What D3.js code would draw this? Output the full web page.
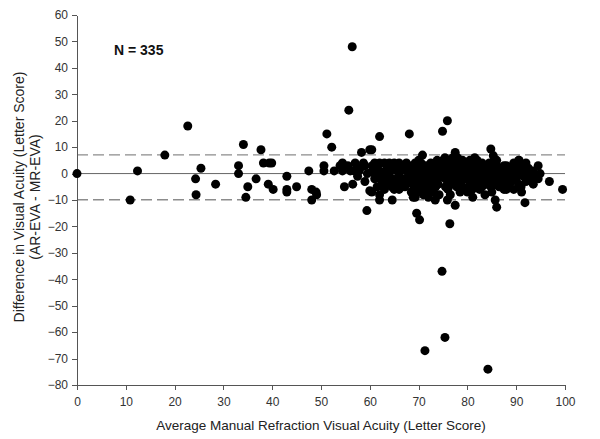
<!DOCTYPE html>
<meta charset="utf-8">
<style>
body { margin: 0; padding: 0; background: #fff; }
svg { font-family: "Liberation Sans", Arial, sans-serif; }
.axis path, .axis line { stroke: #555; stroke-width: 1; shape-rendering: crispEdges; }
.axis text { fill: #333; font-size: 12px; }
.title { fill: #222; font-size: 13.5px; }
.limit { stroke: #8c8c8c; stroke-width: 1.3; stroke-dasharray: 11, 5; fill: none; }
.zero { stroke: #666; stroke-width: 1; fill: none; }
.dot { fill: #000; }
</style>
<body>
<div id="chart"></div>
<script src="https://cdn.jsdelivr.net/npm/d3@7"></script>
<script>
// tick labels
var xTicks = [0, 10, 20, 30, 40, 50, 60, 70, 80, 90, 100];
var yTicks = [60, 50, 40, 30, 20, 10, 0, -10, -20, -30, -40, -50, -60, -70, -80];

// mean difference is zero line, limits of agreement dashed
var zeroLine = [0];
var agreementLimits = [7.1, -9.9];

// [average MR visual acuity, AR-EVA minus MR-EVA]
var lowRange = [
  [0, 0], [10.9, -10], [12.4, 1], [18, 7], [22.7, 18], [24.3, -2], [25.4, 2], [24.4, -8],
  [28.4, -4], [33.1, 3], [33.1, 0], [34.1, 11], [35, -5], [34.6, -9], [36.7, -2], [37.7, 9],
  [38.2, 4], [39.4, 4], [39.9, 4], [39.2, -4], [40.2, -6], [43, -1], [43, -6], [43, -7],
  [45, -5], [47.5, 1], [48.1, -6], [49, -7], [49.1, -8], [48.1, -10]
];

var midRange = [
  [50.6, 3], [50.6, 1], [51.2, 15], [52.2, 10], [52.7, 1], [53.9, 3], [54.4, 4], [54.4, 1],
  [54.8, -5], [55.7, 24], [56.4, 48], [56.8, 1], [57.8, 1], [58.3, 8], [58.7, 4], [59, 3],
  [59.4, -14], [60, 9], [60, -6.5], [60.4, 9], [62, 14], [68.1, 15], [60.4, -7], [62, -8],
  [62, -10], [64.6, -10], [55.5, 3], [56, 1], [57, 4], [57.5, -1], [58, 2], [59.5, 0],
  [59, -3], [56.5, -4]
];

var cluster = [
  [61, 4], [62, 4], [63, 4], [64, 4], [62, 1], [62, -1], [63.5, -1], [64.7, 2], [60.5, 1],
  [61, -2], [63, -4], [61.5, -5], [66, 4], [66, 0.5], [66.5, -3], [66.2, -4.5], [67.2, -5],
  [65, 2], [65.5, -2], [67, 3], [68, 3], [68.6, -3.7], [67.5, 1], [65, -6], [64, -3],
  [68.5, -7], [69.3, -9], [69, -6], [69.3, 4], [70, 2], [70.5, 0], [71, -2], [71, -4],
  [70, 5], [71.5, 3], [69.5, -1], [72, 1], [72, -3], [70.5, -5], [71.5, -6], [68.8, 1],
  [69.8, 3], [72.5, 4], [73, 2], [73.5, 0], [74, -2], [74, -4], [73, -6], [74.5, 3],
  [75, 5], [75.5, 1], [75, -1], [76, -3], [75.5, -5], [72.8, -7], [74.2, -8], [76, -6],
  [73.8, 5], [76, 2], [72.5, -1], [74.8, 0], [75.4, 6], [76.5, 4], [77, 1], [77.5, -1],
  [78, -3], [78.5, 2], [79, 0], [79, -5], [77, 6], [78, 4], [79.5, 3], [76.8, -2],
  [77.8, -5], [78.5, -7], [80, -2], [79.8, 1], [77, -4], [80, 4], [76.5, -8], [80.5, 5],
  [81, 3], [81, 0], [81.5, -2], [82, 2], [82, -4], [82.5, 1], [83, -1], [83, 4],
  [83.5, -3], [81, -6], [82.5, -6], [84, 2], [84, 0], [80.5, -4], [81.5, 6], [83, -5],
  [84, -2], [82, 5], [84.5, 4], [85, 1], [85.5, -1], [85, -3], [86, 3], [86, 0],
  [86.5, -2], [87, 2], [87, -4], [87.5, 1], [85.5, 5], [86.5, -5], [88, -1], [88, 3],
  [84.8, -5], [87.5, -6], [85, -7], [88.5, 2], [89, 0], [89, -3], [89.5, 4], [90, 1],
  [90, -2], [90.5, -4], [91, 3], [91, 0], [91.5, -1], [89.5, -6], [88.5, -5], [92, 1],
  [92, -3], [90.5, 5], [92.5, 2], [93, 0], [93, -2], [93.5, 1], [94, -1], [93.5, -4],
  [70.8, 7], [77.5, 8], [69.6, -15], [70.2, -17.5], [68.9, -9], [73.4, -10], [75.9, -10],
  [77.5, -12], [81.1, -9], [76.4, -19], [84.8, 9.3], [85.3, 6.8], [90.6, 5], [92, 4],
  [94.5, 3], [94.9, 0], [96.8, -3], [94.5, -2], [83.6, -8], [85.7, -10], [86, -12.7],
  [91.8, -11], [91.1, -7], [99.5, -6], [74.9, 16], [75.9, 20]
];

var clusterFill = [
  [60.5, 3], [61.5, 2], [62.5, 0], [63, -2], [63.5, 2], [64, 0], [64.5, -2], [65, 4],
  [65.5, 1], [66, -1], [66.5, 2], [67, -2], [67.5, 4], [63, -6], [64.5, -5], [66, -6],
  [67.5, -4], [62.5, -3], [61, 0], [65, -4], [68, 0], [68.5, -2], [69, 2], [69.5, -4],
  [70, -3], [70, -7], [70.5, 3], [71, 1], [71.5, -1], [72, -5], [72.5, 2], [73, -3],
  [73.5, 4], [73.5, -5], [74, 1], [74.5, -1], [71, -8], [72, -9], [69, -1], [70.5, 4],
  [75, 3], [75.5, -2], [76, 0], [76.5, -4], [77, 3], [77.5, 2], [78, -1], [78.5, -4],
  [79, 2], [79.5, -2], [80, 0], [80.5, 2], [80.5, -6], [81, -3], [81.5, 1], [82, -1],
  [78, 6], [79, 5], [76, 5], [80, -7], [82.5, 3], [83, -3], [83.5, 1], [84, -4],
  [84.5, 2], [85, -5], [85.5, 3], [86, -4], [86.5, 1], [87, -1], [87.5, 3], [88, -3],
  [88.5, 0], [89, 2], [89.5, -1], [90, 3], [86, 5], [88, -6], [91, -5], [92.5, -1]
];

var outliers = [
  [74.8, -37], [75.4, -62], [71.3, -67], [84.2, -74]
];

var width = 600, height = 439;
var margin = {top: 15, right: 35, bottom: 54, left: 77};

var x = d3.scaleLinear().domain([0, 100]).range([margin.left, width - margin.right]);
var y = d3.scaleLinear().domain([-80, 60]).range([height - margin.bottom, margin.top]);

var svg = d3.select("#chart").append("svg")
    .attr("width", width)
    .attr("height", height);

// reference lines
svg.selectAll(".zero")
    .data(zeroLine).enter()
    .append("line")
    .attr("class", "zero")
    .attr("x1", x(0)).attr("x2", x(100))
    .attr("y1", function(d) { return y(d); })
    .attr("y2", function(d) { return y(d); });

svg.selectAll(".limit")
    .data(agreementLimits).enter()
    .append("line")
    .attr("class", "limit")
    .attr("x1", x(0)).attr("x2", x(100))
    .attr("y1", function(d) { return y(d); })
    .attr("y2", function(d) { return y(d); });

// axes
svg.append("g")
    .attr("class", "axis")
    .attr("transform", "translate(0," + y(-80) + ")")
    .call(d3.axisBottom(x).tickValues(xTicks).tickSize(5).tickSizeOuter(0).tickPadding(7));

svg.append("g")
    .attr("class", "axis")
    .attr("transform", "translate(" + x(0) + ",0)")
    .call(d3.axisLeft(y).tickValues(yTicks).tickSize(5).tickSizeOuter(0).tickPadding(4));

// points
var allPoints = lowRange.concat(midRange, cluster, clusterFill, outliers);
svg.append("g")
  .selectAll("circle")
    .data(allPoints).enter()
    .append("circle")
    .attr("class", "dot")
    .attr("cx", function(d) { return x(d[0]); })
    .attr("cy", function(d) { return y(d[1]); })
    .attr("r", 4.5);

// titles
svg.append("text")
    .attr("class", "title")
    .attr("x", (x(0) + x(100)) / 2)
    .attr("y", 430)
    .attr("text-anchor", "middle")
    .text("Average Manual Refraction Visual Acuity (Letter Score)");

var yt = svg.append("text")
    .attr("class", "title")
    .style("font-size", "14px")
    .attr("transform", "translate(24," + 197 + ") rotate(-90)")
    .attr("text-anchor", "middle");
yt.append("tspan").attr("x", 0).attr("dy", 0).text("Difference in Visual Acuity (Letter Score)");
yt.append("tspan").attr("x", 0).attr("dy", 16).text("(AR-EVA - MR-EVA)");

svg.append("text")
    .attr("x", 114)
    .attr("y", 55)
    .style("font-size", "14px")
    .style("font-weight", "bold")
    .style("fill", "#111")
    .text("N = 335");
</script>
</body>
